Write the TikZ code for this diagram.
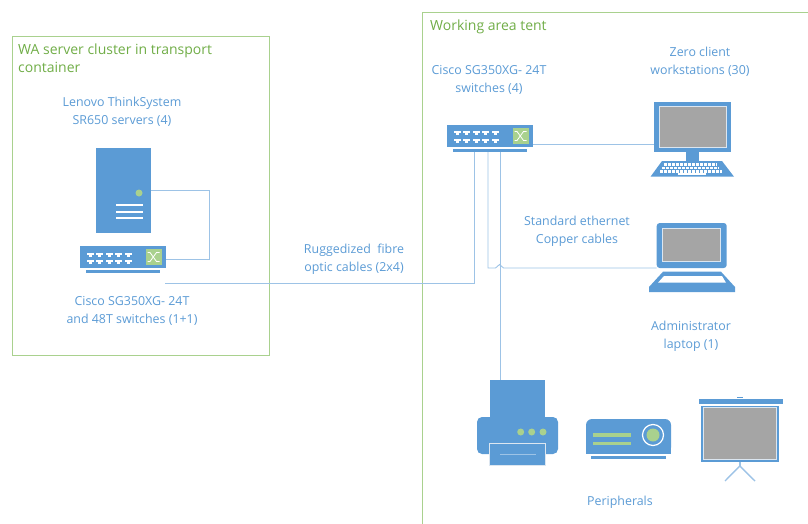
\documentclass[tikz,border=0pt]{standalone}
\usepackage{fontspec}
\setmainfont{Open Sans}
\usepackage{xcolor}
\usetikzlibrary{positioning, calc}

\definecolor{iconblue}{HTML}{5B9BD5}
\definecolor{cablec}{HTML}{9DC3E6}
\definecolor{leaf}{HTML}{A9D18E}
\definecolor{leaftext}{HTML}{70AD47}
\definecolor{screenc}{HTML}{A5A5A5}
\definecolor{rimc}{HTML}{DCE6F0}

\tikzset{
    blk/.style={rectangle, fill=iconblue, draw=none, inner sep=0pt, outer sep=0pt, anchor=north west},
    scr/.style={rectangle, fill=screenc, draw=rimc, line width=0.8pt, inner sep=0pt, outer sep=0pt, anchor=north west},
    dot/.style={circle, fill=leaf, inner sep=0pt, minimum size=7pt},
    cable/.style={draw=cablec, line width=0.9pt},
    wline/.style={draw=white, line width=1.1pt},
    keyrow/.style={draw=white, line width=2.6pt, dash pattern=on 3pt off 1pt},
    area/.style={draw=leaf, line width=0.8pt},
    lbl/.style={text=iconblue, align=center, inner sep=0pt, font=\fontsize{12.4}{18}\selectfont},
    arealbl/.style={text=leaftext, align=left, anchor=west, inner sep=0pt, font=\fontsize{14}{18}\selectfont},
    switchicon/.pic={
        \node[blk, minimum width=86, minimum height=22] (-body) at (0,0) {};
        \node[blk, minimum width=74, minimum height=3] (-base) at (6,24) {};
        \node[rectangle, fill=leaf, inner sep=0pt, minimum width=16, minimum height=16, anchor=north west] (-mark) at (65.5,3) {};
        \foreach \row in {6.5,14}
            \foreach \col in {0,...,4} {
                \fill[white] ({6.5+\col*9.6},\row) rectangle ++(7,2);
                \fill[white] ({8.5+\col*9.6},{\row+2}) rectangle ++(3,2);
            }
        \draw[white, line width=0.8pt] (67.5,6.5) -- (70,6.5) -- (76.5,15.5) -- (79.5,15.5);
        \draw[white, line width=0.8pt] (67.5,15.5) -- (70,15.5) -- (76.5,6.5) -- (79.5,6.5);
    }
}

\begin{document}
\begin{tikzpicture}[x=1pt, y=-1pt]
\useasboundingbox (0,0) rectangle (808,524);

% Areas
\node[area, rectangle, inner sep=0pt, minimum width=257.5, minimum height=319, anchor=north west] (wabox) at (11.5,36) {};
\coordinate (tentne) at (808,12);
\coordinate (tentnw) at (422.5,12);
\coordinate (tentsw) at (422.5,524);
\draw[area] (tentne) -- (tentnw) -- (tentsw);
\node[arealbl] (watitle) at (18,58.5) {WA server cluster in transport\\container};
\node[arealbl] (tenttitle) at (430,27) {Working area tent};

% Server and its switch
\node[blk, minimum width=54.5, minimum height=85.5] (server) at (96,147.5) {};
\node[dot] (serverled) at (139,193) {};
\foreach \y in {205,212,218}
    \draw[wline] (116,\y) -- (143,\y);
\pic (swa) at (80,246) {switchicon};

% Tent switch
\pic (swb) at (447,125) {switchicon};

% Workstation
\node[blk, minimum width=77, minimum height=50.5] (monitor) at (654,101.7) {};
\node[scr, minimum width=67, minimum height=41] (monitorscr) at (659,106) {};
\node[blk, minimum width=13, minimum height=9] (monitorneck) at (686,152) {};
\fill[iconblue] (662,161) -- (722,161) -- (734,176.7) -- (650.5,176.7) -- cycle;
\draw[keyrow] (664,164.5) -- (717,164.5);
\draw[keyrow] (662,168) -- (719,168);
\draw[keyrow] (660,171.3) -- (722,171.3);
\draw[draw=white, line width=2pt] (678,174) -- (706,174);

% Laptop
\node[blk, rounded corners=3pt, minimum width=70, minimum height=45] (laptop) at (656.7,223) {};
\node[scr, minimum width=58, minimum height=33] (laptopscr) at (662.7,228.5) {};
\fill[iconblue] (663,271.7) -- (721,271.7) -- (735,287) -- (735,292) -- (649,292) -- (649,287) -- cycle;
\fill[white] (664,276) -- (722,276) -- (726,282.7) -- (658,282.7) -- cycle;

% Printer
\node[blk, minimum width=55.5, minimum height=38] (printer) at (489.7,380) {};
\fill[iconblue, rounded corners=5pt] (477,454) -- (477,417) -- (558,417) -- (558,454) -- cycle;
\node[dot] (pdota) at (520.7,432) {};
\node[dot] (pdotb) at (531.7,432) {};
\node[dot] (pdotc) at (543,432) {};
\node[blk, draw=rimc, line width=0.7pt, minimum width=56, minimum height=22] (printertray) at (489.5,443) {};
\draw[draw=cablec, line width=0.8pt] (500,454) -- (536,454);

% Projector
\fill[iconblue, rounded corners=6pt] (586,453.5) -- (586,419) -- (671,419) -- (671,453.5) -- cycle;
\fill[iconblue] (586,445) rectangle (671,453.5);
\node[rectangle, fill=leaf, inner sep=0pt, minimum width=38.5, minimum height=3.5, anchor=north west] (projbara) at (592.5,433) {};
\node[rectangle, fill=leaf, inner sep=0pt, minimum width=38.5, minimum height=3, anchor=north west] (projbarb) at (592.5,442) {};
\node[circle, fill=iconblue, draw=white, line width=1.2pt, inner sep=0pt, minimum size=21pt] (projring) at (653,435) {};
\node[circle, fill=leaf, inner sep=0pt, minimum size=13pt] (projlens) at (653,435) {};
\node[blk, minimum width=75, minimum height=2.5] (projbase) at (591,456) {};

% Projection screen
\node[blk, minimum width=84, minimum height=5.5] (screenbar) at (698.5,398.5) {};
\draw[iconblue, line width=0.9pt] (737,397) -- (743,397);
\node[blk, minimum width=78.5, minimum height=56] (screenfr) at (700.5,405.5) {};
\node[scr, minimum width=73.5, minimum height=51.5] (screenin) at (703,407.5) {};
\coordinate (standtop) at (739.8,461.5);
\coordinate (standhub) at (739.8,466);
\coordinate (standl) at (725,481);
\coordinate (standr) at (755,481);
\draw[cablec, line width=2pt] (standtop) -- (standhub);
\draw[cablec, line width=1.4pt] (standl) -- (standhub) -- (standr);

% Cables
\coordinate (fibreend) at (165,283.3);
\coordinate (jumpa) at (495.5,268);
\coordinate (jumpb) at (503.5,268);
\coordinate (tapfibre) at ([xshift=-16]swb-base.south);
\coordinate (tapcopper) at ([xshift=-2]swb-base.south);
\coordinate (tapprint) at ([xshift=10]swb-base.south);
\draw[cable] (server.east |- 0,190.5) -- (209,190.5) |- (swa-body.east |- 0,259);
\draw[cable] (fibreend) -| (tapfibre);
\draw[cable] (swb-body.east |- 0,144) -- (monitor.west |- 0,144);
\draw[cable] (tapcopper) |- (jumpa) .. controls (497.5,268) and (497.5,264.5) .. (499.5,264.5) .. controls (501.5,264.5) and (501.5,268) .. (jumpb) -- (laptop.west |- jumpb);
\draw[cable] (tapprint) -- (printer.north -| tapprint);

% Labels
\node[lbl] (lbllenovo) at (122,111.5) {Lenovo ThinkSystem\\SR650 servers (4)};
\node[lbl] (lblcisa) at (132,310.5) {Cisco SG350XG- 24T\\and 48T switches (1+1)};
\node[lbl] (lblfibre) at (354,259) {Ruggedized\ \ fibre\\optic cables (2x4)};
\node[lbl] (lblcisb) at (489,79.5) {Cisco SG350XG- 24T\\switches (4)};
\node[lbl] (lblzero) at (700,61.5) {Zero client\\workstations (30)};
\node[lbl] (lblcopper) at (577,231.5) {Standard ethernet\\Copper cables};
\node[lbl] (lbladmin) at (691,336.5) {Administrator\\laptop (1)};
\node[lbl] (lblperiph) at (620,502.5) {Peripherals};

\end{tikzpicture}
\end{document}
